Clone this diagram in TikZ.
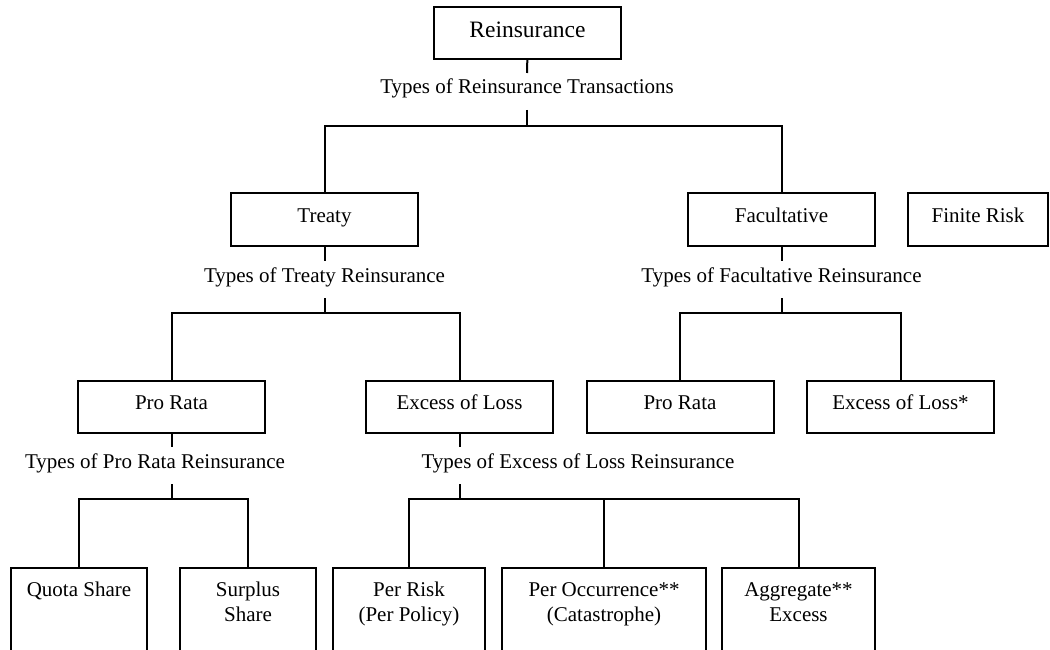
\documentclass[tikz,border=0pt]{standalone}
\usepackage{fontspec}
\setmainfont{Liberation Serif}
\newcommand{\twolines}[2]{\begin{tabular}[t]{@{}c@{}}#1\\#2\end{tabular}}

\begin{document}
\begin{tikzpicture}[x=1pt,y=-1pt,line width=2pt,
    font=\fontsize{21}{25}\selectfont,
    box/.style={draw,inner sep=0,minimum height=52pt,text height=14pt,text depth=8pt},
    leaf/.style={draw,inner sep=0,anchor=north,text height=28pt,text depth=110pt},
    kind/.style={inner sep=0,anchor=base,text height=20pt,text depth=15pt}]
    \useasboundingbox (0,0) rectangle (1050,650);
    \clip (0,0) rectangle (1050,650);

    % top
    \node[box,minimum width=187pt,text height=16pt,text depth=6pt,
          font=\fontsize{23.5}{28}\selectfont] (rein) at (527.5,33) {Reinsurance};
    \node[kind] (transK) at (527,94) {Types of Reinsurance Transactions};
    \coordinate (j1) at (527,126);

    % second row
    \node[box,minimum width=187pt] (treaty) at (324.5,219.5) {Treaty};
    \node[box,minimum width=187pt] (fac) at (781.5,219.5) {Facultative};
    \node[box,minimum width=140pt] (finite) at (978,219.5) {Finite Risk};
    \node[kind] (treatyK) at (324.5,282) {Types of Treaty Reinsurance};
    \node[kind] (facK) at (781.5,282) {Types of Facultative Reinsurance};
    \coordinate (j2a) at (324.5,313);
    \coordinate (j2b) at (781.5,313);

    % third row
    \node[box,minimum width=187pt] (prorata) at (171.5,406.5) {Pro Rata};
    \node[box,minimum width=187pt] (xol) at (459.5,406.5) {Excess of Loss};
    \node[box,minimum width=187pt] (fprorata) at (680,406.5) {Pro Rata};
    \node[box,minimum width=187pt] (fxol) at (900.5,406.5) {Excess of Loss*};
    \node[kind] (prorataK) at (155,468) {Types of Pro Rata Reinsurance};
    \node[kind] (xolK) at (578,468) {Types of Excess of Loss Reinsurance};
    \coordinate (j3a) at (171.5,499);
    \coordinate (j3b) at (459.5,499);

    % bottom row (cut off by the page)
    \node[leaf,minimum width=136pt] (quota) at (79,567) {Quota Share};
    \node[leaf,minimum width=136pt] (surplus) at (248,567) {\twolines{Surplus}{Share}};
    \node[leaf,minimum width=152pt] (perrisk) at (409,567) {\twolines{Per Risk}{(Per Policy)}};
    \node[leaf,minimum width=204pt] (perocc) at (604,567) {\twolines{Per Occurrence**}{(Catastrophe)}};
    \node[leaf,minimum width=153pt] (aggr) at (798.5,567) {\twolines{Aggregate**}{Excess}};

    % connectors
    \draw (rein) -- (transK);
    \draw (transK) -- (j1);
    \draw (treaty.north) |- (j1) -| (fac.north);

    \draw (treaty) -- (treatyK);
    \draw (treatyK.south -| treaty.south) -- (j2a);
    \draw (prorata.north) |- (j2a) -| (xol.north);
    \draw (fac) -- (facK);
    \draw (facK) -- (j2b);
    \draw (fprorata.north) |- (j2b) -| (fxol.north);

    \draw (prorata.south) -- (prorata.south |- prorataK.north);
    \draw (prorata.south |- prorataK.south) -- (j3a);
    \draw (quota.north) |- (j3a) -| (surplus.north);
    \draw (xol.south) -- (xol.south |- xolK.north);
    \draw (xol.south |- xolK.south) -- (j3b);
    \draw (perrisk.north) |- (j3b) -| (aggr.north);
    \draw (perocc.north) -- (perocc.north |- j3b);
\end{tikzpicture}
\end{document}
